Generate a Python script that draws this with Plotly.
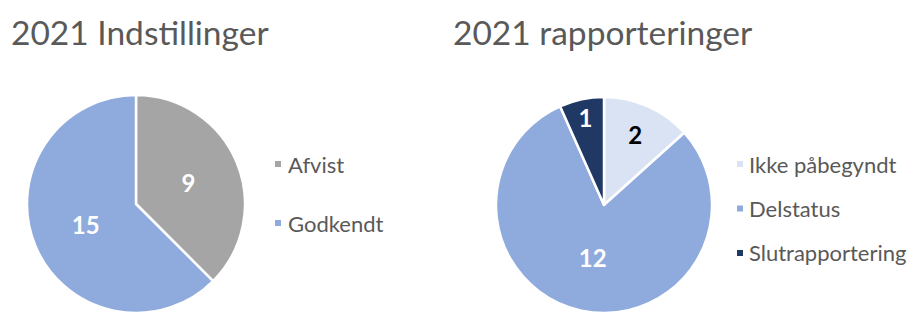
import plotly.graph_objects as go

W, H = 912, 313

# Data
left_title = "2021 Indstillinger"
left_labels = ["Afvist", "Godkendt"]
left_values = [9, 15]
left_colors = ["#A5A5A5", "#8FAADC"]
left_textcolors = ["white", "white"]

right_title = "2021 rapporteringer"
right_labels = ["Ikke påbegyndt", "Delstatus", "Slutrapportering"]
right_values = [2, 12, 1]
right_colors = ["#DAE3F3", "#8FAADC", "#203864"]
right_textcolors = ["black", "white", "white"]

TXT = "#595959"
FONT = "Lato"


def dom(cx, cy, r):
    # cx, cy in pixels from top-left; returns paper domain
    return dict(x=[max(0, (cx - r) / W), min(1, (cx + r) / W)],
                y=[max(0, (H - cy - r) / H), min(1, (H - cy + r) / H)])


fig = go.Figure()
fig.add_trace(go.Pie(
    labels=left_labels, values=left_values, sort=False, direction="clockwise",
    marker=dict(colors=left_colors, line=dict(color="white", width=2.5)),
    textinfo="value", textposition="inside", insidetextorientation="horizontal",
    textfont=dict(family=FONT, size=24, color=left_textcolors, weight="bold"),
    domain=dom(136, 204, 109), showlegend=False, hoverinfo="label+value",
))
fig.add_trace(go.Pie(
    labels=right_labels, values=right_values, sort=False, direction="clockwise",
    marker=dict(colors=right_colors, line=dict(color="white", width=2.5)),
    textinfo="value", textposition="inside", insidetextorientation="horizontal",
    textfont=dict(family=FONT, size=24, color=right_textcolors, weight="bold"),
    domain=dom(604, 205, 108), showlegend=False, hoverinfo="label+value",
))

annotations = []
shapes = []

# Titles
for x, t in [(9, left_title), (451, right_title)]:
    annotations.append(dict(text=t, x=x / W, y=1 - 32 / H, xref="paper", yref="paper",
                            xanchor="left", yanchor="middle", showarrow=False,
                            font=dict(family=FONT, size=33.5, color=TXT)))


# Custom legends
def legend(labels, colors, mx, tx, y0, step):
    for i, (lab, col) in enumerate(zip(labels, colors)):
        yc = y0 + i * step
        shapes.append(dict(type="rect", xref="paper", yref="paper",
                           x0=mx / W, x1=(mx + 6) / W,
                           y0=1 - (yc + 3) / H, y1=1 - (yc - 3) / H,
                           fillcolor=col, line=dict(width=0)))
        annotations.append(dict(text=lab, x=tx / W, y=1 - yc / H, xref="paper", yref="paper",
                                xanchor="left", yanchor="middle", showarrow=False,
                                font=dict(family=FONT, size=22, color=TXT)))


legend(left_labels, left_colors, 275, 286, 164, 59)
legend(right_labels, right_colors, 737, 747, 164, 44.5)

fig.update_layout(
    width=W, height=H, margin=dict(l=0, r=0, t=0, b=0),
    paper_bgcolor="white", plot_bgcolor="white",
    annotations=annotations, shapes=shapes,
)
fig.write_html("out.html", config={"displayModeBar": False},
               post_script="document.body.style.margin='0';document.body.style.overflow='hidden';")
